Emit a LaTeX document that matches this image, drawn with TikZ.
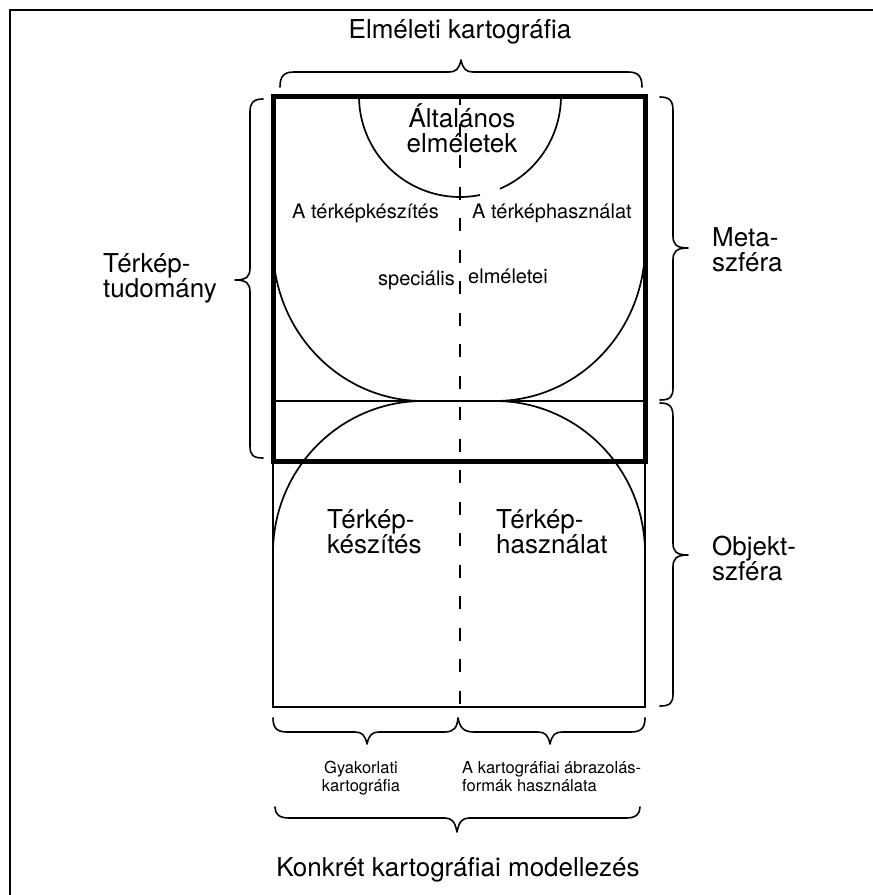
\documentclass[tikz,border=0pt]{standalone}
\usepackage{fontspec}
\setmainfont{TeX Gyre Heros}
\begin{document}
\begin{tikzpicture}[x=1pt,y=-1pt,
  thickbox/.style={line width=5pt},
  thinline/.style={line width=1.7pt},
  brace/.style={line width=1.6pt, line cap=round, line join=round},
  midline/.style={line width=2.2pt, dash pattern=on 13pt off 18.5pt, dash phase=4pt},
  big/.style={inner sep=0pt, font=\fontsize{26}{25}\selectfont},
  mid/.style={inner sep=0pt, font=\fontsize{20}{22}\selectfont},
  small/.style={inner sep=0pt, font=\fontsize{16.5}{18}\selectfont}]
\useasboundingbox (0,0) rectangle (873,895);
% outer frame
\draw[line width=1.5pt] (10,895) -- (10,10) -- (873,10);
% lower thin box and middle line
\draw[thinline] (273,461) -- (273,707) -- (645,707) -- (645,461);
\draw[thinline] (273,401) -- (645,401);
% quarter arcs
\draw[thinline] (273,246) .. controls (273,331.6) and (340.2,401) .. (423,401);
\draw[thinline] (645,246) .. controls (645,331.6) and (577.8,401) .. (495,401);
\draw[thinline] (273,553) .. controls (273,469) and (340.2,401) .. (423,401);
\draw[thinline] (645,553) .. controls (645,469) and (577.8,401) .. (495,401);
% top semicircle with small gap
\draw[thinline] plot[domain=0:66.7, samples=40] ({460+101*cos(\x)},{96+101*sin(\x)});
\draw[thinline] plot[domain=78.6:180, samples=60] ({460+101*cos(\x)},{96+101*sin(\x)});
% thick box
\draw[thickbox] (273,96) rectangle (645,461);
% dashed middle
\coordinate (dtop) at (460,96);
\coordinate (dbot) at (460,707);
\draw[midline] (dtop) -- (dbot);
% braces
\draw[brace] (280,87) .. controls (280,76) and (284,72) .. (294,72) -- (449,72) .. controls (456,72) and (459,69) .. (461,60) .. controls (463,69) and (466,72) .. (473,72) -- (628,72) .. controls (638,72) and (642,76) .. (642,87);
\draw[brace] (263,99) .. controls (253,99) and (250,103) .. (250,112) -- (250,268) .. controls (250,276) and (247,280) .. (235,280) .. controls (247,280) and (250,284) .. (250,292) -- (250,446) .. controls (250,455) and (253,458) .. (263,458);
\draw[brace] (660,97) .. controls (670,97) and (673,101) .. (673,111) -- (673,236) .. controls (673,244) and (676,248) .. (688,248) .. controls (676,248) and (673,252) .. (673,260) -- (673,388) .. controls (673,397) and (670,400) .. (660,400);
\draw[brace] (660,403) .. controls (670,403) and (673,407) .. (673,417) -- (673,543) .. controls (673,551) and (676,555) .. (688,555) .. controls (676,555) and (673,559) .. (673,567) -- (673,694) .. controls (673,703) and (670,706) .. (660,706);
\draw[brace] (273,718) .. controls (273,728) and (277,732) .. (287,732) -- (355,732) .. controls (362,732) and (365,735) .. (367,744) .. controls (369,735) and (372,732) .. (379,732) -- (444,732) .. controls (454,732) and (457,728) .. (458,718);
\draw[brace] (458,718) .. controls (460,728) and (464,732) .. (474,732) -- (538,732) .. controls (545,732) and (548,735) .. (550,744) .. controls (552,735) and (555,732) .. (562,732) -- (631,732) .. controls (641,732) and (645,728) .. (645,718);
\draw[brace] (275,807) .. controls (275,814) and (279,818) .. (289,818) -- (445,818) .. controls (452,818) and (455,822) .. (457,832) .. controls (459,822) and (462,818) .. (469,818) -- (626,818) .. controls (636,818) and (640,814) .. (640,807);
% texts (base anchor = baseline of last line)
\node[big, anchor=base] (elm) at (460,38) {Elméleti kartográfia};
\node[big, anchor=base west, align=left] (tt) at (103,297) {Térkép-\\tudomány};
\node[big, anchor=base west, align=left] (meta) at (712,271) {Meta-\\szféra};
\node[big, anchor=base west, align=left] (obj) at (712,580) {Objekt-\\szféra};
\node[big, anchor=base, align=center] (alt) at (462,152) {Általános\\elméletek};
\node[mid, anchor=base west] (tk) at (292,218) {A térképkészítés};
\node[mid, anchor=base west] (th) at (472,218) {A térképhasználat};
\node[mid, anchor=base west] (spec) at (378,285) {speciális};
\node[mid, anchor=base west] (elmt) at (468,283) {elméletei};
\node[big, anchor=base west, align=left] (tkesz) at (327,553) {Térkép-\\készítés};
\node[big, anchor=base west, align=left] (thasz) at (496,553) {Térkép-\\használat};
\node[small, anchor=base, align=center] (gyak) at (361,791) {Gyakorlati\\kartográfia};
\node[small, anchor=base west, align=left] (abr) at (462,791) {A kartográfiai ábrazolás-\\formák használata};
\node[big, anchor=base] (konk) at (458,876) {Konkrét kartográfiai modellezés};
\end{tikzpicture}
\end{document}
